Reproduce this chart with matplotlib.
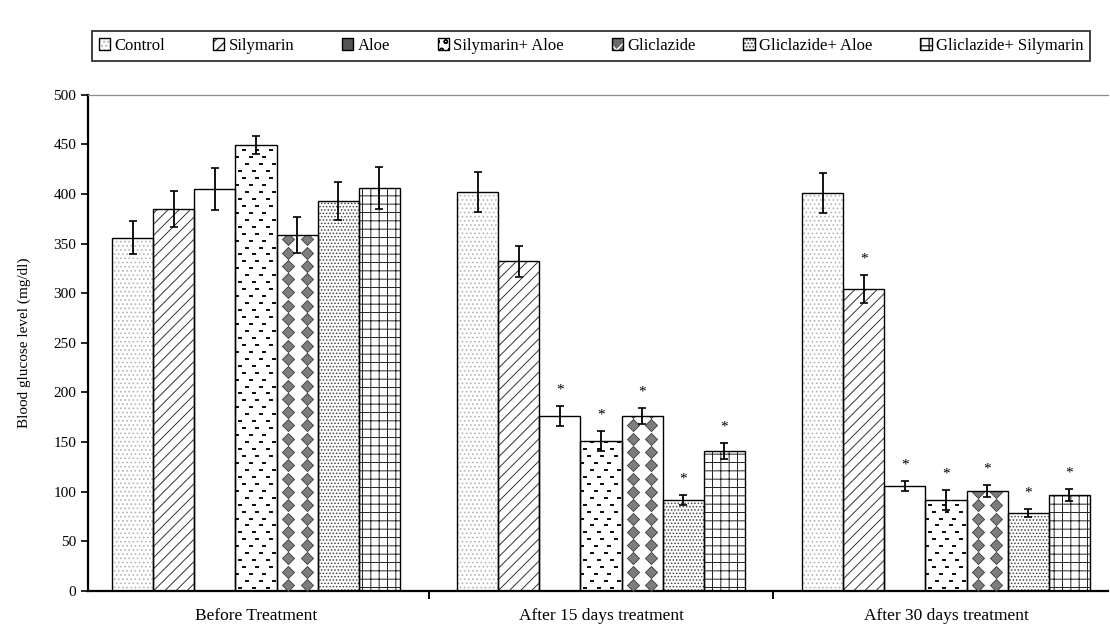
import numpy as np
import matplotlib
matplotlib.use('Agg')
import matplotlib.pyplot as plt
from matplotlib.patches import Patch
from matplotlib.legend_handler import HandlerTuple

plt.rcParams['font.family'] = ['Liberation Serif', 'DejaVu Serif']

groups = ["Before Treatment", "After 15 days treatment", "After 30 days treatment"]
treatments = ["Control", "Silymarin", "Aloe", "Silymarin+ Aloe",
              "Gliclazide", "Gliclazide+ Aloe", "Gliclazide+ Silymarin"]

# mean blood glucose per treatment: before, 15 days, 30 days
control      = [356, 402, 401]
silymarin    = [385, 332, 304]
aloe         = [405, 176, 106]
sil_aloe     = [449, 151, 92]
gliclazide   = [359, 176, 101]
glic_aloe    = [393, 92, 79]
glic_sil     = [406, 141, 97]

control_err    = [17, 20, 20]
silymarin_err  = [18, 16, 14]
aloe_err       = [21, 10, 5]
sil_aloe_err   = [9, 10, 10]
gliclazide_err = [18, 8, 6]
glic_aloe_err  = [19, 5, 4]
glic_sil_err   = [21, 8, 6]

# significance asterisks (1 = marked)
control_sig    = [0, 0, 0]
silymarin_sig  = [0, 0, 1]
aloe_sig       = [0, 1, 1]
sil_aloe_sig   = [0, 1, 1]
gliclazide_sig = [0, 1, 1]
glic_aloe_sig  = [0, 1, 1]
glic_sil_sig   = [0, 1, 1]

means = [control, silymarin, aloe, sil_aloe, gliclazide, glic_aloe, glic_sil]
errs = [control_err, silymarin_err, aloe_err, sil_aloe_err, gliclazide_err, glic_aloe_err, glic_sil_err]
sigs = [control_sig, silymarin_sig, aloe_sig, sil_aloe_sig, gliclazide_sig, glic_aloe_sig, glic_sil_sig]

# fill style per treatment: (hatch, hatch colour, marker texture)
STYLE = [('....', '#b5b5b5', None),
         ('///', '#333333', None),
         ('', 'white', None),
         ('', 'white', 'dash'),
         ('', 'white', 'diamond'),
         ('.....', '#444444', None),
         ('++', '#222222', None)]

fig = plt.figure(figsize=(11.1, 6.33), dpi=100)
ax = fig.add_axes([0.0793, 0.0664, 0.919, 0.784])

x = np.arange(len(groups))
w = 0.119
RECT = [(-1, -0.6), (1, -0.6), (1, 0.6), (-1, 0.6)]
DASH_ROWS = [(0.12, 0.45, 0.78), (0.29, 0.62, 0.95), (0.04, 0.37, 0.7), (0.2, 0.53, 0.86)]


def texture(bar, kind):
    x0, bw, h = bar.get_x(), bar.get_width(), bar.get_height()
    xs, ys = [], []
    if kind == 'diamond':
        for yy in np.arange(6, h + 10, 13.4):
            for f in (0.27, 0.73):
                xs.append(x0 + f * bw); ys.append(yy)
        sc = ax.scatter(xs, ys, marker='D', s=38, c='#7d7d7d', edgecolors='#3c3c3c',
                        linewidths=0.6, zorder=3)
    else:
        for k, yy in enumerate(np.arange(3, h + 6, 7.0)):
            for f in DASH_ROWS[k % len(DASH_ROWS)]:
                xs.append(x0 + f * bw); ys.append(yy)
        sc = ax.scatter(xs, ys, marker=RECT, s=9, c='#111111', linewidths=0, zorder=3)
    sc.set_clip_path(bar)


handles = []
for i, (m, e, s, (hat, hc, tex)) in enumerate(zip(means, errs, sigs, STYLE)):
    pos = x + (i - 3) * w
    with plt.rc_context({'hatch.linewidth': 0.7}):
        fill = ax.bar(pos, m, w, color='white', edgecolor=hc, hatch=hat, lw=0, zorder=2)
    edge = ax.bar(pos, m, w, fill=False, edgecolor='black', lw=1.0, zorder=4)
    if tex:
        for b in fill:
            texture(b, tex)
    ax.errorbar(pos, m, yerr=e, fmt='none', ecolor='black', elinewidth=1.3,
                capsize=3, capthick=1.2, zorder=5)
    for p, v, ee, flag in zip(pos, m, e, s):
        if flag:
            ax.text(p, v + ee + 16, '*', ha='center', va='center', fontsize=11, zorder=6)
    if tex == 'diamond':
        proxy = Patch(facecolor='#6a6a6a', edgecolor='white', hatch='xx', lw=0)
    elif tex == 'dash':
        proxy = Patch(facecolor='white', edgecolor='black', hatch='oo', lw=0)
    elif i == 2:
        proxy = Patch(facecolor='#555555', edgecolor='#555555', lw=0)
    else:
        proxy = fill[0]
    handles.append((proxy, edge[0]))

ax.set_xlim(-0.487, 2.47)
ax.set_ylim(0, 500)
ax.set_yticks(np.arange(0, 501, 50))
ax.set_ylabel('Blood glucose level (mg/dl)', fontsize=11, labelpad=16)
ax.set_xticks(x)
ax.set_xticklabels(groups, fontsize=12.5)
ax.tick_params(axis='x', length=0, pad=12)
ax.set_xticks([0.5, 1.5], minor=True)
ax.tick_params(axis='x', which='minor', length=6, width=1.4, direction='out')
ax.tick_params(axis='y', length=5, width=1.2, direction='out', labelsize=11)

for sp in ('left', 'bottom'):
    ax.spines[sp].set_linewidth(1.6)
ax.spines['right'].set_visible(False)
ax.spines['top'].set_color('#8a8a8a')
ax.spines['top'].set_linewidth(0.9)

leg = fig.legend(handles, treatments, handler_map={tuple: HandlerTuple(ndivide=1, pad=0)},
                 loc='center', bbox_to_anchor=(0.0829, 0.8894, 0.8991, 0.0758),
                 mode='expand', ncol=7, fontsize=12, frameon=True, fancybox=False,
                 handlelength=0.7, handleheight=0.7, handletextpad=0.25,
                 borderaxespad=0, columnspacing=1.0)
leg.get_frame().set_edgecolor('black')
leg.get_frame().set_linewidth(1.3)

fig.savefig('out.png', dpi=100, facecolor='white')
